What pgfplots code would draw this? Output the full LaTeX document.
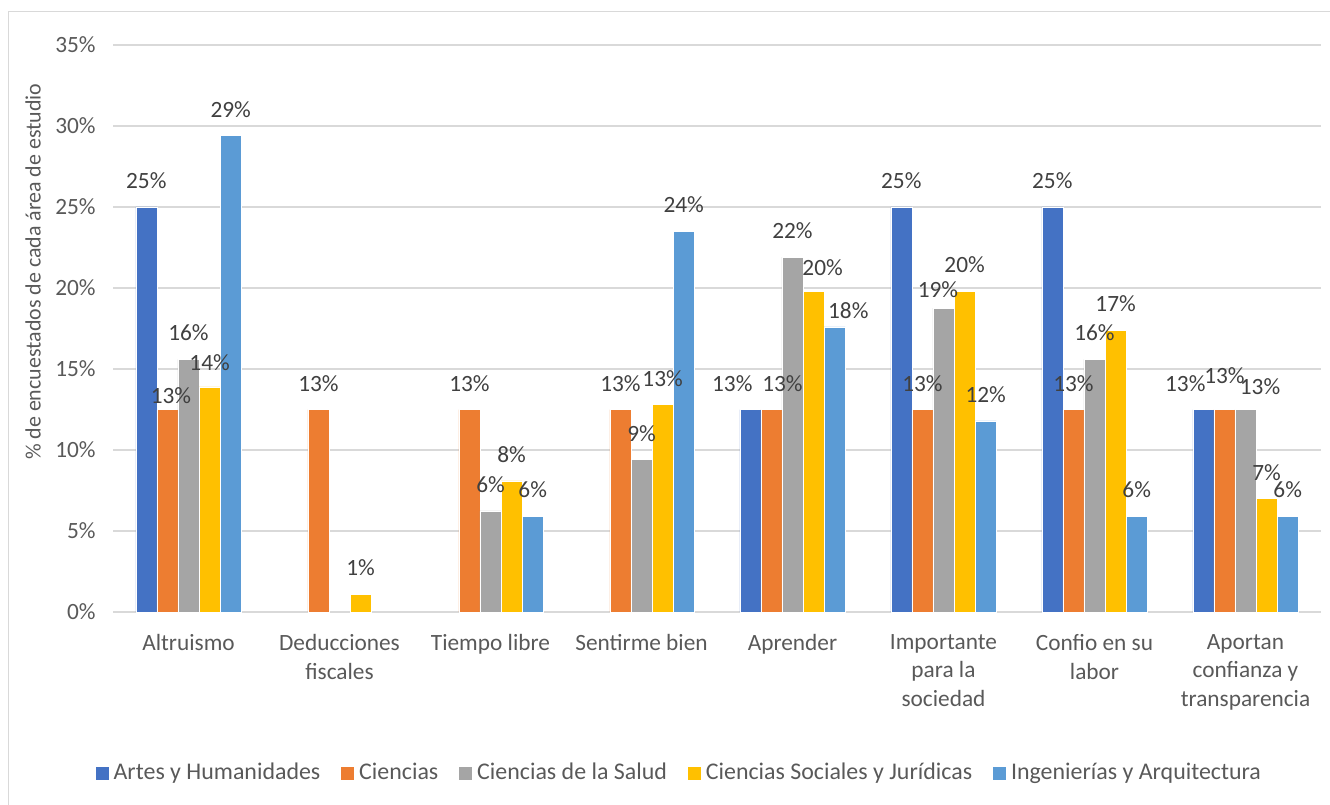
\documentclass[border=0pt]{standalone}
\usepackage{pgfplots}
\pgfplotsset{compat=1.18}
\usepackage{fontspec}
\setmainfont{Carlito}

\definecolor{artes}{HTML}{4472C4}
\definecolor{ciencias}{HTML}{ED7D31}
\definecolor{salud}{HTML}{A5A5A5}
\definecolor{sociales}{HTML}{FFC000}
\definecolor{ingen}{HTML}{5B9BD5}
\definecolor{gridgray}{HTML}{D9D9D9}
\definecolor{txtgray}{HTML}{595959}
\definecolor{lblgray}{HTML}{404040}

% x = category index, y = value (%), lab = data label, dx/dy = label nudge (bp)
\begin{document}
\begin{tikzpicture}
% 1 px of the reference = 0.5bp; plot area lower left at (0,0)
\useasboundingbox (-56.5bp,-96.5bp) rectangle (608.5bp,306bp);
\draw[gridgray, line width=0.8bp] (-52.25bp,-120bp) -- (-52.25bp,300.25bp) -- (640bp,300.25bp);

\begin{axis}[
    at={(0,0)}, anchor=south west,
    scale only axis,
    width=604bp, height=283.5bp,
    ybar=0pt, bar width=10.55bp,
    xmin=-0.5, xmax=7.5,
    ymin=0, ymax=35,
    xtick={0,...,7},
    xticklabels={Altruismo, {Deducciones\\fiscales}, Tiempo libre, Sentirme bien, Aprender,
        {Importante\\para la\\sociedad}, {Confio en su\\labor}, {Aportan\\confianza y\\transparencia}},
    ytick={0,5,...,35},
    yticklabel={\pgfmathprintnumber{\tick}\%},
    /pgf/number format/assume math mode=true,
    major tick length=0pt,
    axis line style={draw=none},
    ymajorgrids,
    grid style={gridgray, line width=0.8bp},
    tick label style={font=\fontsize{11.7}{14.3}\selectfont, text=txtgray},
    xticklabel style={align=center, inner sep=0pt, yshift=-11bp},
    yticklabel style={inner sep=0pt, xshift=-8.5bp},
    ylabel={\% de encuestados de cada área de estudio},
    ylabel style={at={(axis description cs:-0.0662,0.6)}, anchor=center,
        font=\fontsize{11}{13}\selectfont, text=txtgray},
    point meta=explicit symbolic,
    visualization depends on={value \thisrow{dx} \as \dx},
    visualization depends on={value \thisrow{dy} \as \dy},
    nodes near coords={\pgfplotspointmeta\%},
    every node near coord/.append style={font=\fontsize{11.7}{14}\selectfont, text=lblgray,
        anchor=south, inner sep=0pt, yshift=9bp, xshift=\dx bp, yshift=\dy bp},
    legend columns=-1,
    legend style={at={(axis description cs:0.4694,-0.284)}, anchor=center,
        draw=none, fill=none, font=\fontsize{12}{14}\selectfont, text=txtgray,
        nodes={inner sep=2.2bp},
        /tikz/every even column/.append style={column sep=7.8bp}},
    legend image code/.code={\fill[#1] (0bp,-3.5bp) rectangle (7bp,3.5bp);},
]

\addplot[fill=artes, draw=white, line width=0.25bp] table[x=x, y=y, meta=lab] {
x y lab dx dy
0 25 25 0 0
4 12.5 13 -9 0
5 25 25 0 0
6 25 25 0 0
7 12.5 13 -9 0
};
\addlegendentry{Artes y Humanidades}

\addplot[fill=ciencias, draw=white, line width=0.25bp] table[x=x, y=y, meta=lab] {
x y lab dx dy
0 12.5 13 1.75 -6
1 12.5 13 0 0
2 12.5 13 0 0
3 12.5 13 0 0
4 12.5 13 5.5 0
5 12.5 13 0 0
6 12.5 13 0 0
7 12.5 13 0 4
};
\addlegendentry{Ciencias}

\addplot[fill=salud, draw=white, line width=0.25bp] table[x=x, y=y, meta=lab] {
x y lab dx dy
0 15.6 16 0 0
2 6.25 6 0 0
3 9.4 9 0 0
4 21.9 22 0 0
5 18.75 19 -2.75 -4
6 15.6 16 0 0
7 12.5 13 7.25 -1.5
};
\addlegendentry{Ciencias de la Salud}

\addplot[fill=sociales, draw=white, line width=0.25bp] table[x=x, y=y, meta=lab] {
x y lab dx dy
0 13.9 14 0 -1
1 1.1 1 0 0
2 8.1 8 0 0
3 12.8 13 0 0
4 19.8 20 4.5 -1.5
5 19.8 20 0 0
6 17.4 17 0 0
7 7.0 7 0 0
};
\addlegendentry{Ciencias Sociales y Jurídicas}

\addplot[fill=ingen, draw=white, line width=0.25bp] table[x=x, y=y, meta=lab] {
x y lab dx dy
0 29.4 29 0 0
2 5.9 6 0 0
3 23.5 24 0 0
4 17.6 18 6.8 -5
5 11.8 12 0 0
6 5.9 6 0 0
7 5.9 6 0 0
};
\addlegendentry{Ingenierías y Arquitectura}

\end{axis}
\end{tikzpicture}
\end{document}
